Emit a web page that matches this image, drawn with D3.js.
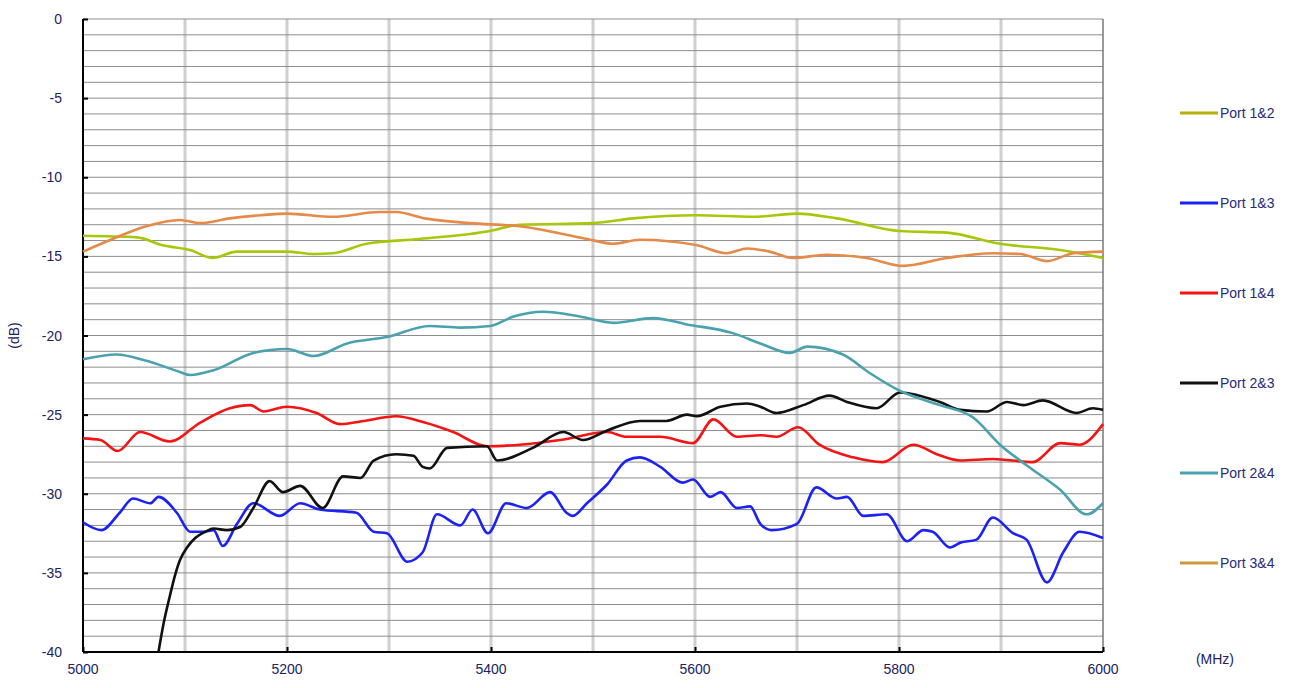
<!DOCTYPE html>
<html>
<head>
<meta charset="utf-8">
<script src="https://cdn.jsdelivr.net/npm/d3@7"></script>
<style>
  body { margin: 0; background: #fff; }
  text { font-family: "Liberation Sans", Arial, sans-serif; }
  .tick-label { font-size: 14px; fill: #22225e; }
  .legend-text { font-size: 14px; fill: #2a2a78; }
</style>
</head>
<body>
<div class="container"></div>
<script>
// series names and colours
var seriesNames = ["Port 1&2", "Port 1&3", "Port 1&4", "Port 2&3", "Port 2&4", "Port 3&4"];
var seriesColors = ["#a6c80a", "#1c22f4", "#f41414", "#111111", "#4aa2ae", "#e58a48"];
var legendColors = ["#b7ae10", "#1c22f4", "#f41414", "#111111", "#4aa2ae", "#c99a3a"];

var xTicks = [5000, 5200, 5400, 5600, 5800, 6000];
var yTicks = [0, -5, -10, -15, -20, -25, -30, -35, -40];

// [MHz, dB]
var port12 = [[5000,-13.7],[5053,-13.8],[5078,-14.3],[5105,-14.6],[5127,-15.1],[5151,-14.7],[5200,-14.7],[5226,-14.85],[5245,-14.8],[5278,-14.2],[5330,-13.9],[5399,-13.4],[5428,-13.0],[5500,-12.9],[5539,-12.6],[5602,-12.4],[5657,-12.5],[5700,-12.3],[5739,-12.6],[5801,-13.4],[5847,-13.5],[5899,-14.2],[5958,-14.6],[6000,-15.1]];
var port13 = [[5000,-31.8],[5018,-32.3],[5036,-31.2],[5049,-30.3],[5066,-30.6],[5074,-30.2],[5092,-31.2],[5105,-32.4],[5118,-32.4],[5128,-32.3],[5137,-33.3],[5151,-31.9],[5167,-30.6],[5193,-31.4],[5213,-30.6],[5232,-31.0],[5268,-31.2],[5285,-32.4],[5298,-32.5],[5318,-34.3],[5333,-33.7],[5347,-31.3],[5370,-32.0],[5382,-31.0],[5397,-32.5],[5415,-30.6],[5435,-30.9],[5458,-29.9],[5474,-31.2],[5480,-31.4],[5494,-30.6],[5514,-29.4],[5533,-27.9],[5546,-27.7],[5566,-28.3],[5588,-29.3],[5598,-29.1],[5615,-30.2],[5625,-29.9],[5641,-30.9],[5654,-30.8],[5664,-31.9],[5675,-32.3],[5700,-31.9],[5719,-29.6],[5739,-30.3],[5749,-30.2],[5765,-31.4],[5788,-31.3],[5808,-33.0],[5824,-32.3],[5833,-32.4],[5850,-33.4],[5860,-33.1],[5876,-32.9],[5892,-31.5],[5912,-32.5],[5925,-32.9],[5945,-35.6],[5961,-33.7],[5977,-32.4],[6000,-32.8]];
var port14 = [[5000,-26.5],[5017,-26.6],[5034,-27.3],[5056,-26.1],[5085,-26.7],[5115,-25.5],[5144,-24.6],[5164,-24.4],[5177,-24.8],[5200,-24.5],[5229,-24.9],[5252,-25.6],[5275,-25.4],[5307,-25.1],[5335,-25.5],[5363,-26.1],[5396,-27.0],[5428,-26.9],[5468,-26.6],[5514,-26.1],[5533,-26.4],[5566,-26.4],[5598,-26.8],[5618,-25.3],[5641,-26.4],[5664,-26.3],[5680,-26.4],[5701,-25.8],[5722,-26.9],[5755,-27.7],[5784,-28.0],[5814,-26.9],[5837,-27.5],[5860,-27.9],[5892,-27.8],[5931,-28.0],[5958,-26.8],[5977,-26.9],[6000,-25.6]];
var port23 = [[5074,-40],[5079,-38.2],[5085,-36.5],[5090,-35.2],[5095,-34.2],[5102,-33.4],[5110,-32.8],[5120,-32.4],[5128,-32.2],[5141,-32.3],[5154,-32.1],[5167,-30.9],[5183,-29.2],[5196,-29.9],[5213,-29.5],[5235,-30.9],[5255,-28.9],[5272,-29.0],[5285,-27.9],[5307,-27.5],[5324,-27.6],[5333,-28.3],[5340,-28.4],[5357,-27.1],[5396,-27.0],[5406,-27.9],[5441,-27.1],[5471,-26.1],[5490,-26.6],[5514,-26.0],[5546,-25.4],[5572,-25.4],[5592,-25.0],[5602,-25.1],[5625,-24.5],[5651,-24.3],[5664,-24.5],[5680,-24.9],[5706,-24.4],[5732,-23.8],[5749,-24.2],[5778,-24.6],[5801,-23.6],[5840,-24.2],[5860,-24.7],[5886,-24.8],[5906,-24.2],[5922,-24.4],[5941,-24.1],[5974,-24.9],[5990,-24.6],[6000,-24.7]];
var port24 = [[5000,-21.5],[5033,-21.2],[5062,-21.6],[5095,-22.3],[5105,-22.5],[5128,-22.2],[5167,-21.1],[5200,-20.85],[5226,-21.3],[5259,-20.5],[5298,-20.1],[5340,-19.4],[5370,-19.5],[5399,-19.4],[5422,-18.8],[5451,-18.5],[5487,-18.8],[5520,-19.2],[5559,-18.9],[5592,-19.3],[5637,-19.85],[5664,-20.5],[5693,-21.1],[5710,-20.7],[5745,-21.2],[5772,-22.4],[5801,-23.5],[5840,-24.4],[5873,-25.2],[5899,-26.9],[5925,-28.2],[5958,-29.75],[5984,-31.3],[6000,-30.6]];
var port34 = [[5000,-14.7],[5029,-13.9],[5062,-13.1],[5095,-12.7],[5115,-12.9],[5144,-12.6],[5174,-12.4],[5200,-12.3],[5245,-12.5],[5291,-12.2],[5307,-12.2],[5335,-12.6],[5379,-12.9],[5428,-13.1],[5494,-13.9],[5520,-14.2],[5546,-13.95],[5602,-14.3],[5631,-14.8],[5651,-14.5],[5673,-14.7],[5696,-15.1],[5729,-14.9],[5768,-15.1],[5804,-15.6],[5847,-15.1],[5892,-14.8],[5919,-14.85],[5945,-15.3],[5971,-14.8],[6000,-14.7]];

var allSeries = [port12, port13, port14, port23, port24, port34];

var margin = {top: 19, right: 201, bottom: 36, left: 83},
    width = 1304 - margin.left - margin.right,
    height = 688 - margin.top - margin.bottom;

var svg = d3.select(".container")
  .append("svg")
    .attr("width", 1304)
    .attr("height", 688)
  .append("g")
    .attr("transform", "translate(" + margin.left + "," + margin.top + ")");

var x = d3.scaleLinear().domain([5000, 6000]).range([0, width]);
var y = d3.scaleLinear().domain([-40, 0]).range([height, 0]);

// vertical grid (every 100 MHz)
svg.append("g")
  .selectAll("line")
  .data(d3.range(5100, 6000, 100))
  .enter()
  .append("line")
    .attr("x1", d => x(d)).attr("x2", d => x(d))
    .attr("y1", 0).attr("y2", height)
    .style("stroke", "#cfcfcf")
    .style("stroke-width", 3);

// horizontal grid (every 1 dB)
svg.append("g")
  .selectAll("line")
  .data(d3.range(-39, 1, 1))
  .enter()
  .append("line")
    .attr("x1", 0).attr("x2", width)
    .attr("y1", d => y(d)).attr("y2", d => y(d))
    .style("stroke", "#8c8c8c")
    .style("stroke-width", 1);

// right border
svg.append("line")
  .attr("x1", width).attr("x2", width)
  .attr("y1", 0).attr("y2", height)
  .style("stroke", "#777")
  .style("stroke-width", 1.5);

// axes
var yAxis = svg.append("g")
  .call(d3.axisRight(y).tickValues(yTicks).tickSize(5).tickFormat(""));
yAxis.select(".domain").attr("d", "M0," + height + "V0").style("stroke", "#000").style("stroke-width", 2);
yAxis.selectAll(".tick line").style("stroke", "#000").style("stroke-width", 2);

var xAxis = svg.append("g")
  .attr("transform", "translate(0," + height + ")")
  .call(d3.axisTop(x).tickValues(xTicks).tickSize(5).tickFormat(""));
xAxis.select(".domain").attr("d", "M0,0H" + width).style("stroke", "#000").style("stroke-width", 2);
xAxis.selectAll(".tick line").style("stroke", "#000").style("stroke-width", 2);

// tick labels
svg.append("g")
  .selectAll("text")
  .data(yTicks)
  .enter()
  .append("text")
    .attr("class", "tick-label")
    .attr("x", -21)
    .attr("y", d => y(d) + 5)
    .attr("text-anchor", "end")
    .text(d => d);

svg.append("g")
  .selectAll("text")
  .data(xTicks)
  .enter()
  .append("text")
    .attr("class", "tick-label")
    .attr("x", d => x(d))
    .attr("y", height + 22)
    .attr("text-anchor", "middle")
    .text(d => d);

// axis titles
svg.append("text")
  .attr("class", "tick-label")
  .attr("transform", "translate(-64," + (height / 2) + ")rotate(-90)")
  .attr("text-anchor", "middle")
  .text("(dB)");

svg.append("text")
  .attr("class", "tick-label")
  .attr("x", 1132)
  .attr("y", height + 12)
  .attr("text-anchor", "middle")
  .text("(MHz)");

// lines
var line = d3.line()
  .curve(d3.curveMonotoneX)
  .x(d => x(d[0]))
  .y(d => y(d[1]));

svg.append("g")
  .selectAll("path")
  .data(allSeries)
  .enter()
  .append("path")
    .attr("d", line)
    .style("fill", "none")
    .style("stroke", (d, i) => seriesColors[i])
    .style("stroke-width", 2.6)
    .style("stroke-linejoin", "round");

// legend
var legend = svg.append("g")
  .attr("transform", "translate(" + (width + 77) + ",0)");

var item = legend.selectAll("g")
  .data(seriesNames)
  .enter()
  .append("g")
    .attr("transform", (d, i) => "translate(0," + (94 + i * 90) + ")");

item.append("line")
  .attr("x1", 0).attr("x2", 38)
  .attr("y1", 0).attr("y2", 0)
  .style("stroke", (d, i) => legendColors[i])
  .style("stroke-width", 3);

item.append("text")
  .attr("class", "legend-text")
  .attr("x", 40)
  .attr("y", 5)
  .text(d => d);
</script>
</body>
</html>
